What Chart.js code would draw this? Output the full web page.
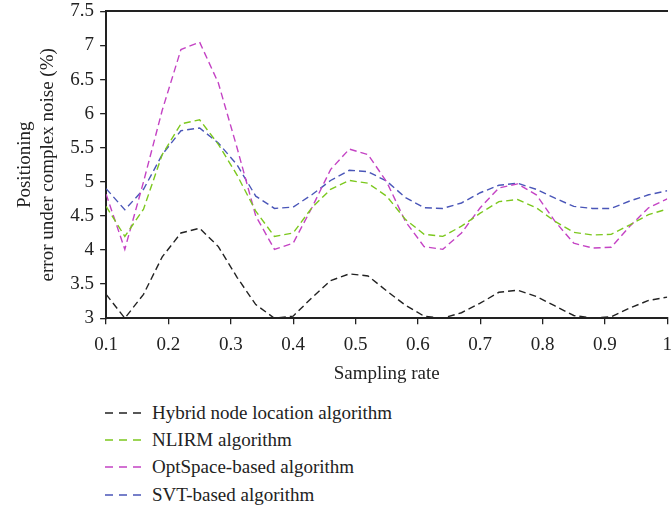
<!DOCTYPE html>
<html lang="en">
<head>
    <meta charset="UTF-8">
    <title>Positioning error under complex noise</title>
    <style>
        html, body { margin: 0; padding: 0; background: #fff; overflow: hidden; }
        .wrap { position: relative; width: 685px; height: 510px; }
        .chart-box { position: absolute; left: 0; top: -6px; width: 681px; height: 390px; }
        .legend { position: absolute; left: 105px; top: 399px; font-family: "Liberation Serif", serif; font-size: 19px; color: #222; }
        .legend div { height: 27.3px; display: flex; align-items: center; white-space: nowrap; }
        .legend svg { margin-right: 11px; }
    </style>
</head>
<body>
<div class="wrap">
    <div class="chart-box"><canvas id="myChart"></canvas></div>
    <div class="legend" id="legend"></div>
</div>

<script src="https://cdn.jsdelivr.net/npm/chart.js"></script>
<script>
    // sampling rate values (x)
    var samplingRate = [0.10, 0.13, 0.16, 0.19, 0.22, 0.25, 0.28, 0.31, 0.34, 0.37, 0.40,
        0.43, 0.46, 0.49, 0.52, 0.55, 0.58, 0.61, 0.64, 0.67, 0.70,
        0.73, 0.76, 0.79, 0.82, 0.85, 0.88, 0.91, 0.94, 0.97, 1.00];

    var seriesNames = ['Hybrid node location algorithm', 'NLIRM algorithm', 'OptSpace-based algorithm', 'SVT-based algorithm'];
    var seriesColors = ['#222222', '#7cc81e', '#c443c4', '#4a56b8'];

    var hybrid = [3.35, 3.00, 3.35, 3.90, 4.25, 4.32, 4.05, 3.60, 3.20, 3.00, 3.03,
        3.30, 3.55, 3.65, 3.62, 3.40, 3.19, 3.03, 3.00, 3.08, 3.22,
        3.38, 3.41, 3.32, 3.18, 3.04, 3.00, 3.02, 3.15, 3.26, 3.31];
    var nlirm = [4.64, 4.20, 4.60, 5.40, 5.85, 5.91, 5.55, 5.10, 4.57, 4.20, 4.25,
        4.62, 4.89, 5.02, 4.98, 4.79, 4.45, 4.23, 4.20, 4.35, 4.54,
        4.71, 4.74, 4.62, 4.42, 4.26, 4.22, 4.23, 4.37, 4.52, 4.60];
    var optspace = [4.82, 4.01, 5.00, 6.05, 6.94, 7.05, 6.45, 5.50, 4.50, 4.01, 4.10,
        4.62, 5.18, 5.48, 5.40, 5.00, 4.42, 4.05, 4.01, 4.25, 4.62,
        4.91, 4.97, 4.81, 4.42, 4.10, 4.03, 4.04, 4.35, 4.62, 4.75];
    var svt = [4.90, 4.59, 4.89, 5.40, 5.75, 5.79, 5.57, 5.25, 4.79, 4.61, 4.63,
        4.81, 5.02, 5.17, 5.15, 5.01, 4.77, 4.62, 4.61, 4.69, 4.84,
        4.95, 4.98, 4.89, 4.76, 4.64, 4.61, 4.61, 4.72, 4.81, 4.87];

    var xTicks = [0.1, 0.2, 0.3, 0.4, 0.5, 0.6, 0.7, 0.8, 0.9, 1];
    var yTicks = [3, 3.5, 4, 4.5, 5, 5.5, 6, 6.5, 7, 7.5];

    var allSeries = [hybrid, nlirm, optspace, svt];
    var axisColor = '#222';
    var serif = 'Liberation Serif';

    function toPoints(values) {
        return values.map(function (v, i) { return { x: samplingRate[i], y: v }; });
    }

    var datasets = allSeries.map(function (values, i) {
        return {
            label: seriesNames[i],
            data: toPoints(values),
            borderColor: seriesColors[i],
            borderWidth: 1.4,
            borderDash: [7, 4],
            pointRadius: 0,
            tension: 0,
            fill: false
        };
    });

    function setTicks(list) {
        return function (axis) {
            axis.ticks = list.map(function (v) { return { value: v }; });
        };
    }

    function plainNumber(v) {
        return String(Math.round(v * 10) / 10);
    }

    var ctx = document.getElementById('myChart').getContext('2d');
    new Chart(ctx, {
        type: 'line',
        data: { datasets: datasets },
        options: {
            responsive: true,
            maintainAspectRatio: false,
            animation: false,
            layout: { padding: { top: 0, left: 13, right: 0, bottom: 0 } },
            plugins: {
                legend: { display: false },
                tooltip: { enabled: false }
            },
            scales: {
                x: {
                    type: 'linear',
                    min: 0.1,
                    max: 1,
                    afterBuildTicks: setTicks(xTicks),
                    border: { color: axisColor, width: 2 },
                    grid: { drawOnChartArea: false, color: axisColor, tickLength: 6, lineWidth: 1.3 },
                    ticks: {
                        color: '#222',
                        font: { family: serif, size: 19 },
                        padding: 9,
                        maxRotation: 0,
                        callback: plainNumber
                    },
                    title: {
                        display: true,
                        text: 'Sampling rate',
                        color: '#222',
                        font: { family: serif, size: 19, lineHeight: 1.0 },
                        padding: { top: 0, bottom: 0 }
                    }
                },
                xTop: {
                    type: 'linear',
                    position: 'top',
                    min: 0.1,
                    max: 1,
                    border: { color: axisColor, width: 2 },
                    grid: { display: false },
                    ticks: { display: false }
                },
                y: {
                    min: 3,
                    max: 7.5,
                    afterBuildTicks: setTicks(yTicks),
                    border: { color: axisColor, width: 2 },
                    grid: { drawOnChartArea: false, color: axisColor, tickLength: 6, lineWidth: 1.3 },
                    ticks: {
                        color: '#222',
                        font: { family: serif, size: 19 },
                        padding: 6,
                        callback: plainNumber
                    },
                    title: {
                        display: true,
                        text: ['Positioning', 'error under complex noise (%)'],
                        color: '#222',
                        font: { family: serif, size: 19, lineHeight: 1.22 },
                        padding: { top: 0, bottom: 5 }
                    }
                }
            }
        }
    });

    // legend below the chart, one row per series
    var legendEl = document.getElementById('legend');
    seriesNames.forEach(function (name, i) {
        var row = document.createElement('div');
        row.innerHTML = '<svg width="36" height="4"><line x1="0" y1="2" x2="36" y2="2" stroke="' +
            seriesColors[i] + '" stroke-width="1.4" stroke-dasharray="8 6"/></svg><span>' + name + '</span>';
        legendEl.appendChild(row);
    });
</script>
</body>
</html>
